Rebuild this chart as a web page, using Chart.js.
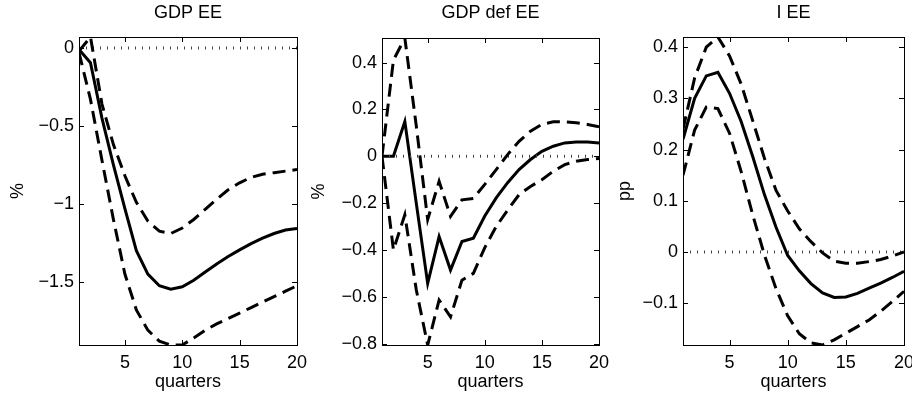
<!DOCTYPE html>
<html>
<head>
<meta charset="utf-8">
<title>Impulse responses</title>
<script src="https://cdn.jsdelivr.net/npm/chart.js@4/dist/chart.umd.min.js"></script>
<style>
  html, body { margin: 0; padding: 0; background: #fff; }
  #wrap { position: relative; width: 913px; height: 404px; overflow: hidden; }
  #wrap canvas { position: absolute; top: 0; }
</style>
</head>
<body>
<div id="wrap">
  <canvas id="gdp" width="307" height="404" style="left:0px"></canvas>
  <canvas id="defl" width="304" height="404" style="left:305px"></canvas>
  <canvas id="inv" width="305" height="404" style="left:607px"></canvas>
</div>
<script>
var quarters = [1,2,3,4,5,6,7,8,9,10,11,12,13,14,15,16,17,18,19,20];
var xTicks = [5, 10, 15, 20];

// GDP EE, %
var gdpMid   = [-0.01,-0.095,-0.45,-0.75,-1.03,-1.30,-1.45,-1.525,-1.547,-1.532,-1.49,-1.437,-1.385,-1.338,-1.295,-1.255,-1.22,-1.19,-1.168,-1.158];
var gdpUpper = [-0.02,0.07,-0.36,-0.62,-0.82,-0.99,-1.11,-1.175,-1.19,-1.155,-1.10,-1.035,-0.97,-0.91,-0.865,-0.83,-0.81,-0.80,-0.79,-0.78];
var gdpLower = [-0.03,-0.33,-0.72,-1.10,-1.45,-1.68,-1.81,-1.88,-1.905,-1.905,-1.86,-1.81,-1.77,-1.735,-1.70,-1.665,-1.63,-1.595,-1.56,-1.525];
var gdpTicks = [0, -0.5, -1, -1.5];
var gdpRange = [-1.905, 0.07];

// GDP def EE, %
var defMid   = [0,0,0.148,-0.20,-0.543,-0.343,-0.486,-0.364,-0.35,-0.255,-0.178,-0.113,-0.057,-0.014,0.021,0.043,0.057,0.061,0.061,0.057];
var defUpper = [0,0.41,0.505,0.13,-0.27,-0.107,-0.257,-0.186,-0.18,-0.12,-0.057,0.007,0.064,0.107,0.136,0.147,0.147,0.143,0.136,0.126];
var defLower = [0,-0.40,-0.25,-0.57,-0.806,-0.614,-0.686,-0.529,-0.50,-0.39,-0.30,-0.23,-0.164,-0.129,-0.10,-0.064,-0.036,-0.021,-0.014,-0.01];
var defTicks = [0.4, 0.2, 0, -0.2, -0.4, -0.6, -0.8];
var defRange = [-0.806, 0.505];

// I EE, pp
var invMid   = [0.22,0.30,0.344,0.351,0.31,0.255,0.186,0.112,0.048,-0.007,-0.037,-0.062,-0.08,-0.089,-0.088,-0.081,-0.071,-0.061,-0.05,-0.038];
var invUpper = [0.24,0.34,0.40,0.42,0.383,0.328,0.256,0.183,0.12,0.08,0.045,0.02,-0.002,-0.018,-0.022,-0.022,-0.019,-0.015,-0.008,0.0];
var invLower = [0.15,0.238,0.283,0.28,0.232,0.157,0.072,-0.006,-0.072,-0.125,-0.16,-0.178,-0.182,-0.172,-0.159,-0.146,-0.133,-0.116,-0.097,-0.077];
var invTicks = [0.4, 0.3, 0.2, 0.1, 0, -0.1];
var invRange = [-0.182, 0.42];

var FONT = "'Liberation Sans', Arial, Helvetica, sans-serif";
var FSIZE = 18;

function pts(vals) {
  return quarters.map(function (q, i) { return { x: q, y: vals[i] }; });
}

function fmt(v) {
  return v < 0 ? '\u2212' + String(Math.abs(v)) : String(v);
}

// box around the axes with short inward ticks on all four sides
var boxPlugin = {
  id: 'box',
  afterDraw: function (chart) {
    var a = chart.chartArea, ctx = chart.ctx;
    var xs = chart.scales.x, ys = chart.scales.y;
    var L = 5;
    ctx.save();
    ctx.strokeStyle = '#000';
    ctx.lineWidth = 1;
    ctx.beginPath();
    xs.ticks.forEach(function (t) {
      var px = Math.round(xs.getPixelForValue(t.value)) + 0.5;
      ctx.moveTo(px, a.bottom); ctx.lineTo(px, a.bottom - L);
      ctx.moveTo(px, a.top); ctx.lineTo(px, a.top + L);
    });
    ys.ticks.forEach(function (t) {
      var py = Math.round(ys.getPixelForValue(t.value)) + 0.5;
      ctx.moveTo(a.left, py); ctx.lineTo(a.left + L, py);
      ctx.moveTo(a.right, py); ctx.lineTo(a.right - L, py);
    });
    ctx.stroke();
    ctx.strokeRect(Math.round(a.left) + 0.5, Math.round(a.top) + 0.5,
                   Math.round(a.right - a.left), Math.round(a.bottom - a.top));
    ctx.restore();
  }
};

function makeChart(id, title, unit, mid, upper, lower, yTicks, yRange, cfg) {
  var line = function (vals, dashed) {
    return {
      data: pts(vals),
      borderColor: '#000',
      borderWidth: 3,
      borderDash: dashed ? [13, 7] : [],
      pointRadius: 0,
      tension: 0,
      clip: 0
    };
  };
  var zero = {
    data: [{ x: quarters[0], y: 0 }, { x: quarters[quarters.length - 1], y: 0 }],
    borderColor: '#444',
    borderWidth: 3,
    borderDash: [1, 6],
    borderCapStyle: 'butt',
    pointRadius: 0,
    clip: 0
  };
  return new Chart(document.getElementById(id), {
    type: 'line',
    data: { datasets: [line(upper, true), line(lower, true), zero, line(mid, false)] },
    plugins: [boxPlugin],
    options: {
      responsive: false,
      animation: false,
      events: [],
      layout: { padding: { left: 0, right: cfg.right, top: 0, bottom: 0 } },
      plugins: {
        legend: { display: false },
        tooltip: { enabled: false },
        title: {
          display: true,
          fullSize: false,
          text: title,
          color: '#000',
          font: { family: FONT, size: FSIZE, weight: 'normal' },
          padding: { top: 2, bottom: cfg.titleGap }
        }
      },
      scales: {
        x: {
          type: 'linear',
          min: quarters[0],
          max: quarters[quarters.length - 1],
          grid: { display: false, drawTicks: false },
          border: { display: false },
          afterBuildTicks: function (s) { s.ticks = xTicks.map(function (v) { return { value: v }; }); },
          afterFit: function (s) { s.height = 59; s.paddingLeft = 0; s.paddingRight = 0; },
          ticks: { color: '#000', padding: 7, maxRotation: 0, font: { family: FONT, size: FSIZE } },
          title: {
            display: true, text: 'quarters', color: '#000',
            font: { family: FONT, size: FSIZE },
            padding: { top: 0, bottom: 11 }
          }
        },
        y: {
          type: 'linear',
          min: yRange[0],
          max: yRange[1],
          grid: { display: false, drawTicks: false },
          border: { display: false },
          afterBuildTicks: function (s) { s.ticks = yTicks.map(function (v) { return { value: v }; }); },
          afterFit: function (s) { s.width = cfg.axisW; s.paddingTop = 0; s.paddingBottom = 0; },
          ticks: { color: '#000', padding: 5, callback: fmt, font: { family: FONT, size: FSIZE } },
          title: {
            display: true, text: unit, color: '#000',
            font: { family: FONT, size: FSIZE },
            padding: { top: cfg.unitPad, bottom: 0 }
          }
        }
      }
    }
  });
}

makeChart('gdp', 'GDP EE', '%', gdpMid, gdpUpper, gdpLower, gdpTicks, gdpRange,
  { axisW: 79, right: 10, titleGap: 13.4, unitPad: 7 });
makeChart('defl', 'GDP def EE', '%', defMid, defUpper, defLower, defTicks, defRange,
  { axisW: 77, right: 10, titleGap: 14.4, unitPad: 3 });
makeChart('inv', 'I EE', 'pp', invMid, invUpper, invLower, invTicks, invRange,
  { axisW: 76, right: 8, titleGap: 13.4, unitPad: 7 });
</script>
</body>
</html>
